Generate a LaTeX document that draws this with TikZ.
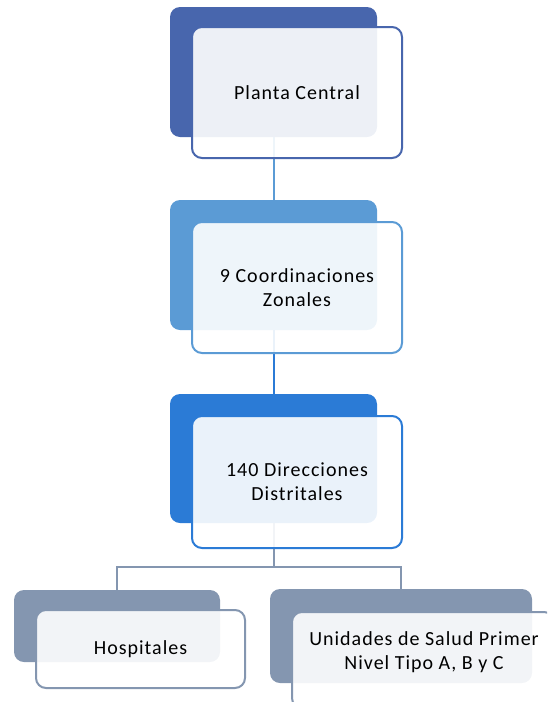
\documentclass[tikz,border=0pt]{standalone}
\usepackage{fontspec}
\setmainfont{Carlito}[LetterSpace=5]
\definecolor{cA}{HTML}{4866AD}
\definecolor{cB}{HTML}{5B9BD5}
\definecolor{cC}{HTML}{2B7BD6}
\definecolor{cD}{HTML}{8496B0}
\tikzset{
  backbox/.style={draw=none, fill=#1, rounded corners=10pt, inner sep=0pt},
  frontbox/.style={draw=#1, line width=2pt, fill=white, fill opacity=0.9, text opacity=1,
     rounded corners=10pt, inner sep=0pt, align=center, text=black,
     font=\fontsize{20}{24}\selectfont},
  lbl/.style={inner sep=0pt, align=center, text=black, font=\fontsize{20}{24}\selectfont},
  conn/.style={draw=#1, line width=2pt}
}
\begin{document}
\begin{tikzpicture}[x=1pt,y=-1pt]
\useasboundingbox (0,0) rectangle (547,702);
\clip (0,0) rectangle (547,702);
% connectors (behind)
\coordinate (p1) at (273.5,72);
\coordinate (p2) at (273.5,265);
\coordinate (p3) at (273.5,458.5);
\coordinate (bus) at (273.5,567);
\coordinate (ph) at (117,626);
\coordinate (pu) at (401,636);
\draw[conn=cB] (p1) -- (p2);
\draw[conn=cC] (p2) -- (p3);
\draw[conn=cD] (p3) -- (bus);
\draw[conn=cD] (ph) |- (bus) -| (pu);
% box 1
\node[backbox=cA, minimum width=207pt, minimum height=130pt] (b1) at (p1) {};
\node[frontbox=cA, minimum width=210pt, minimum height=131pt] (f1) at (297,92.5) {Planta Central};
% box 2
\node[backbox=cB, minimum width=207pt, minimum height=130pt] (b2) at (p2) {};
\node[frontbox=cB, minimum width=210pt, minimum height=131pt] (f2) at (297,287.5) {9 Coordinaciones\\Zonales};
% box 3
\node[backbox=cC, minimum width=207pt, minimum height=129pt] (b3) at (p3) {};
\node[frontbox=cC, minimum width=210pt, minimum height=132pt] (f3) at (297,482) {140 Direcciones\\Distritales};
% Hospitales
\node[backbox=cD, minimum width=206pt, minimum height=72pt] (hb) at (ph) {};
\node[frontbox=cD, minimum width=209pt, minimum height=78pt] (hf) at (140.5,649) {Hospitales};
% Unidades
\node[backbox=cD, minimum width=262pt, minimum height=94pt] (ub) at (pu) {};
\node[frontbox=cD, minimum width=262pt, minimum height=96pt] (uf) at (423,660) {};
\node[lbl] (ut) at (424,652) {Unidades de Salud Primer\\Nivel Tipo A, B y C};
\end{tikzpicture}
\end{document}
